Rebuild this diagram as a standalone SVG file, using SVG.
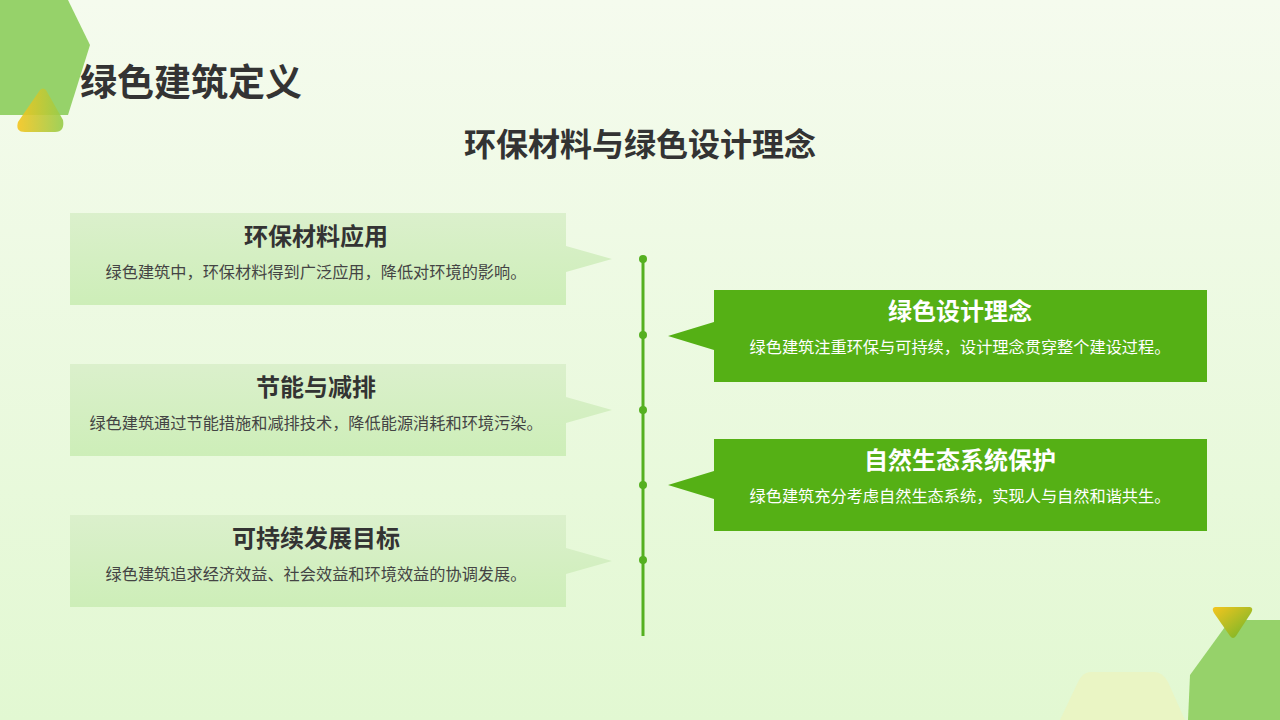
<svg xmlns="http://www.w3.org/2000/svg" width="1280" height="720" viewBox="0 0 1280 720">
<defs>
<linearGradient id="bg" x1="0" y1="0" x2="0" y2="1"><stop offset="0" stop-color="#f5fbee"/><stop offset="1" stop-color="#e2f8d2"/></linearGradient>
<linearGradient id="lb" x1="0" y1="0" x2="0" y2="1"><stop offset="0" stop-color="#dbf0cc"/><stop offset="1" stop-color="#cdeeb8"/></linearGradient>
<linearGradient id="yel" x1="0" y1="0" x2="1" y2="0"><stop offset="0" stop-color="#f5c51e"/><stop offset="1" stop-color="#96cc4a"/></linearGradient>
<linearGradient id="yel2" x1="0" y1="0" x2="1" y2="1"><stop offset="0" stop-color="#f5c51e"/><stop offset="1" stop-color="#6cb52a"/></linearGradient>
<style>
.t{font-family:"Noto Sans CJK SC",sans-serif;font-weight:700;fill:#333;text-anchor:middle}
.d{font-family:"Noto Sans CJK SC",sans-serif;font-size:16.2px;text-anchor:middle}
.dk{fill:#444}.wt{fill:#fff}
</style>
</defs>
<rect width="1280" height="720" fill="url(#bg)"/>
<path d="M0 0H68L90 45L68 115H0Z" fill="#96d26a"/>
<path d="M40 90Q43 87 46 90L63 120Q65 132 55 132H25Q15 132 18 122Z" fill="url(#yel)" opacity="0.9"/>
<path d="M1230 620H1280V720H1188L1190 675Z" fill="#96d26a"/>
<path d="M1215 607H1250Q1254 608 1251 613L1236 636Q1233 640 1230 636L1214 613Q1211 608 1215 607Z" fill="url(#yel2)"/>
<path d="M1090 672H1155Q1162 672 1168 682L1185 720H1060L1078 682Q1083 672 1090 672Z" fill="#eaf5c4"/>
<text x="80" y="96" class="t" style="text-anchor:start;font-size:37px">绿色建筑定义</text>
<text x="640" y="156" class="t" style="font-size:32px">环保材料与绿色设计理念</text>
<g id="connectors">
<line x1="643" y1="259" x2="643" y2="636" stroke="#55b020" stroke-width="3"/>
<g fill="#55b020"><circle cx="643" cy="259" r="4"/><circle cx="643" cy="335" r="4"/><circle cx="643" cy="410" r="4"/><circle cx="643" cy="485" r="4"/><circle cx="643" cy="560" r="4"/></g>
</g>
<g id="n1"><path d="M70 213H566V246L612 259L566 272V305H70Z" fill="url(#lb)"/><text x="316" y="245" class="t" style="font-size:24px">环保材料应用</text><text x="316" y="278" class="d dk">绿色建筑中，环保材料得到广泛应用，降低对环境的影响。</text></g>
<g id="n2"><path d="M70 364H566V397L612 410L566 423V456H70Z" fill="url(#lb)"/><text x="316" y="396" class="t" style="font-size:24px">节能与减排</text><text x="316" y="429" class="d dk">绿色建筑通过节能措施和减排技术，降低能源消耗和环境污染。</text></g>
<g id="n3"><path d="M70 515H566V548L612 561L566 574V607H70Z" fill="url(#lb)"/><text x="316" y="547" class="t" style="font-size:24px">可持续发展目标</text><text x="316" y="580" class="d dk">绿色建筑追求经济效益、社会效益和环境效益的协调发展。</text></g>
<g id="n4"><path d="M714 290H1207V382H714V350L668 336L714 322Z" fill="#55b015"/><text x="960" y="320" class="t" style="font-size:24px;fill:#fff">绿色设计理念</text><text x="960" y="353" class="d wt">绿色建筑注重环保与可持续，设计理念贯穿整个建设过程。</text></g>
<g id="n5"><path d="M714 439H1207V531H714V499L668 485L714 471Z" fill="#55b015"/><text x="960" y="469" class="t" style="font-size:24px;fill:#fff">自然生态系统保护</text><text x="960" y="502" class="d wt">绿色建筑充分考虑自然生态系统，实现人与自然和谐共生。</text></g>
</svg>
